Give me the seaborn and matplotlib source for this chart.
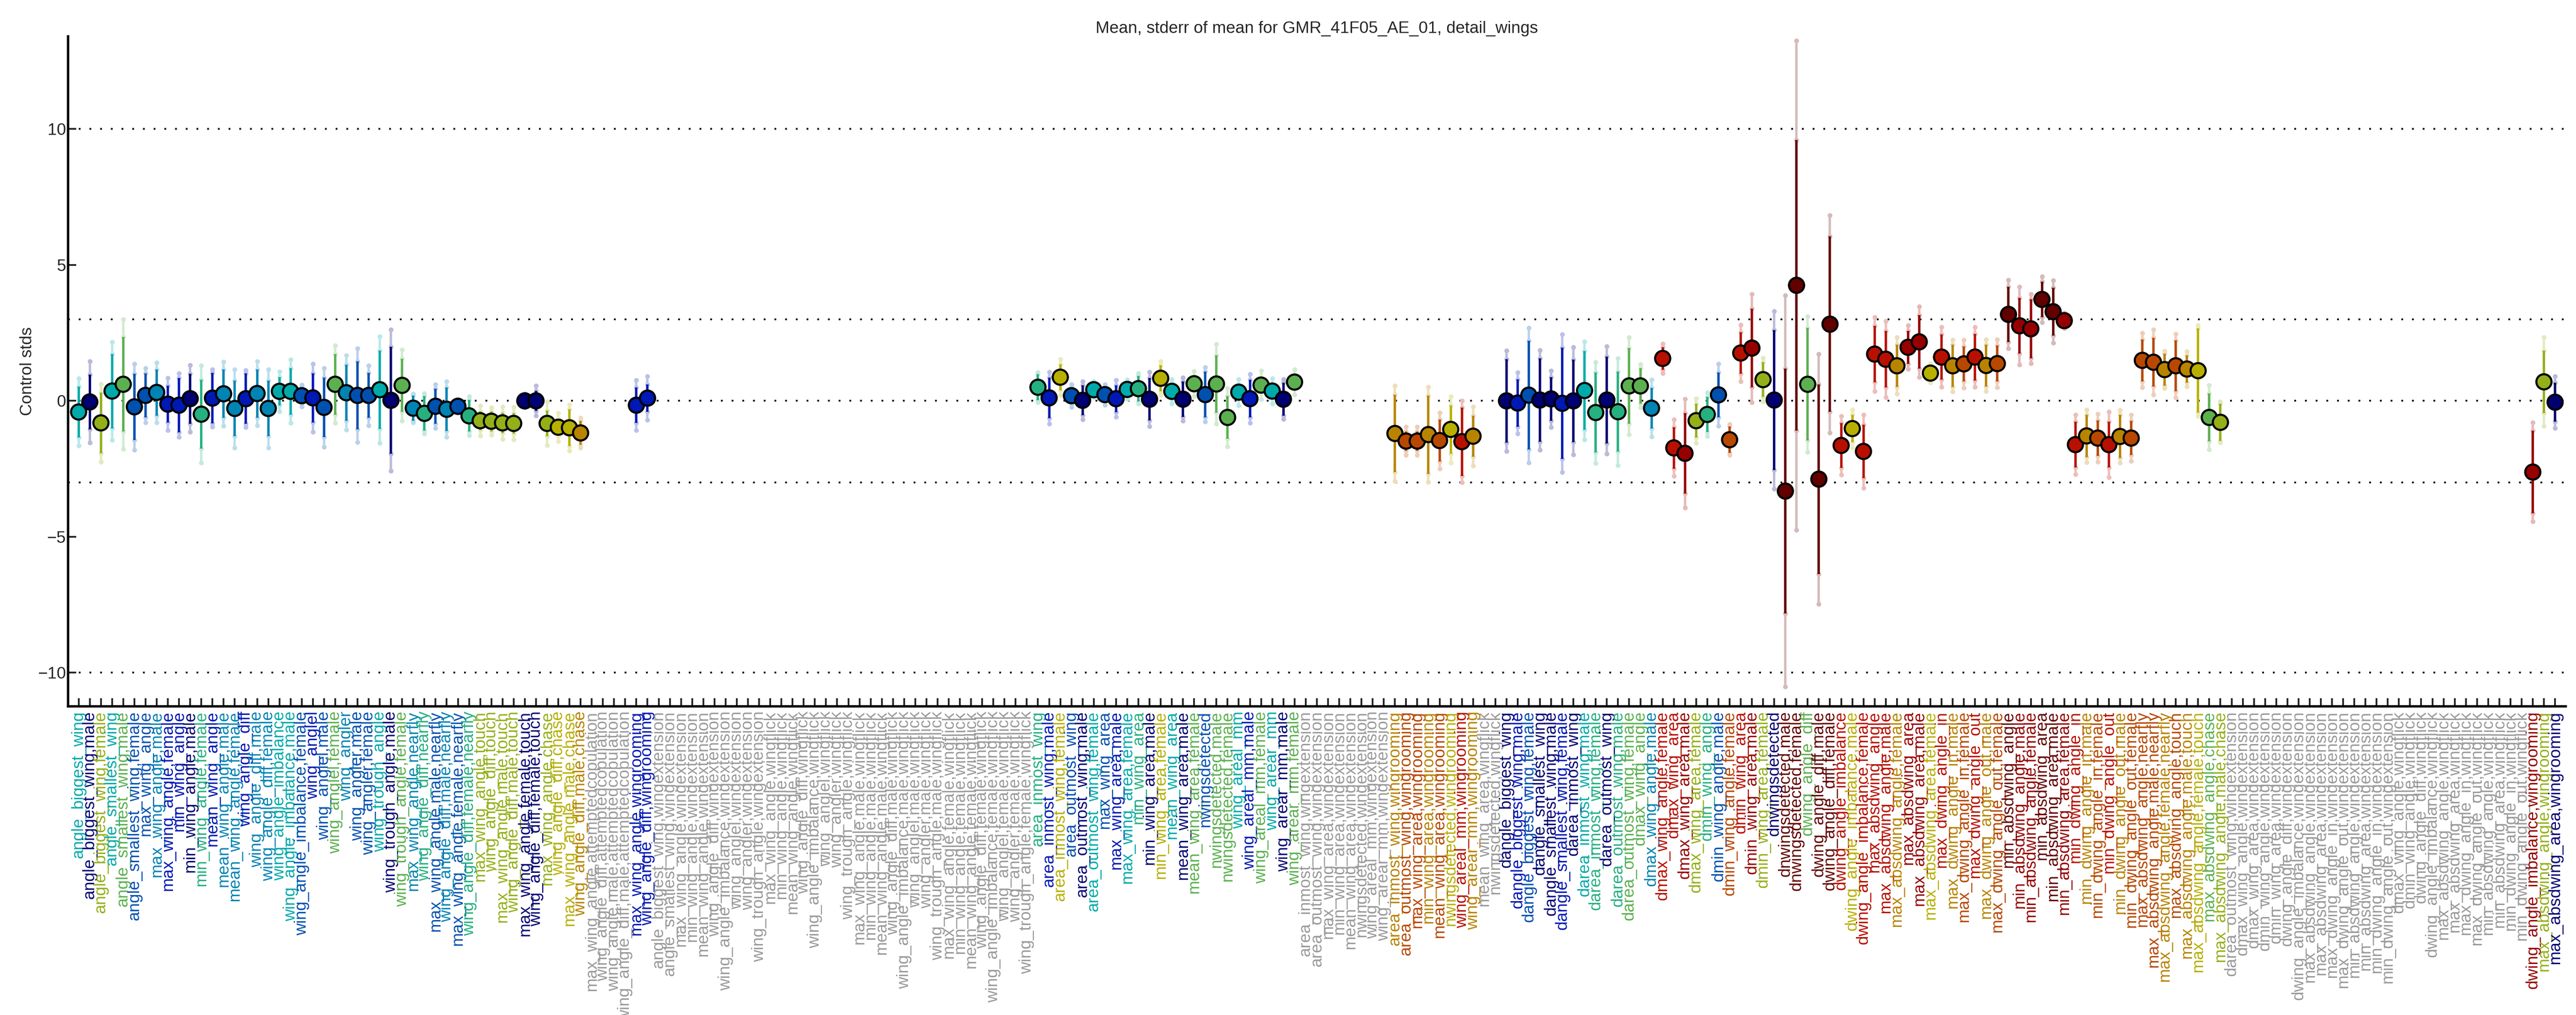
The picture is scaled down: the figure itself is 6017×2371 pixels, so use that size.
import numpy as np
import pandas as pd
import matplotlib
matplotlib.use('Agg')
import matplotlib.pyplot as plt
import matplotlib.colors as mcolors
import seaborn as sns

# feature names along the x axis
labels = [
    'angle_biggest_wing', 'angle_biggest_wing,male', 'angle_biggest_wing,female',
    'angle_smallest_wing', 'angle_smallest_wing,male', 'angle_smallest_wing,female',
    'max_wing_angle', 'max_wing_angle,male', 'max_wing_angle,female',
    'min_wing_angle', 'min_wing_angle,male', 'min_wing_angle,female',
    'mean_wing_angle', 'mean_wing_angle,male', 'mean_wing_angle,female',
    'wing_angle_diff', 'wing_angle_diff,male', 'wing_angle_diff,female',
    'wing_angle_imbalance', 'wing_angle_imbalance,male', 'wing_angle_imbalance,female',
    'wing_anglel', 'wing_anglel,male', 'wing_anglel,female',
    'wing_angler', 'wing_angler,male', 'wing_angler,female',
    'wing_trough_angle', 'wing_trough_angle,male', 'wing_trough_angle,female',
    'max_wing_angle,nearfly', 'wing_angle_diff,nearfly',
    'max_wing_angle,male,nearfly', 'wing_angle_diff,male,nearfly',
    'max_wing_angle,female,nearfly', 'wing_angle_diff,female,nearfly',
    'max_wing_angle,touch', 'wing_angle_diff,touch',
    'max_wing_angle,male,touch', 'wing_angle_diff,male,touch',
    'max_wing_angle,female,touch', 'wing_angle_diff,female,touch',
    'max_wing_angle,chase', 'wing_angle_diff,chase',
    'max_wing_angle,male,chase', 'wing_angle_diff,male,chase',
    'max_wing_angle,attemptedcopulation', 'wing_angle_diff,attemptedcopulation',
    'wing_angle,male,attemptedcopulation', 'wing_angle_diff,male,attemptedcopulation',
    'max_wing_angle,wingrooming', 'wing_angle_diff,wingrooming',
    'angle_biggest_wing,wingextension', 'angle_smallest_wing,wingextension',
    'max_wing_angle,wingextension', 'min_wing_angle,wingextension',
    'mean_wing_angle,wingextension', 'wing_angle_diff,wingextension',
    'wing_angle_imbalance,wingextension', 'wing_anglel,wingextension',
    'wing_angler,wingextension', 'wing_trough_angle,wingextension',
    'max_wing_angle,wingflick', 'min_wing_angle,wingflick', 'mean_wing_angle,wingflick',
    'wing_angle_diff,wingflick', 'wing_angle_imbalance,wingflick', 'wing_anglel,wingflick',
    'wing_angler,wingflick', 'wing_trough_angle,wingflick',
    'max_wing_angle,male,wingflick', 'min_wing_angle,male,wingflick',
    'mean_wing_angle,male,wingflick', 'wing_angle_diff,male,wingflick',
    'wing_angle_imbalance,male,wingflick', 'wing_anglel,male,wingflick',
    'wing_angler,male,wingflick', 'wing_trough_angle,male,wingflick',
    'max_wing_angle,female,wingflick', 'min_wing_angle,female,wingflick',
    'mean_wing_angle,female,wingflick', 'wing_angle_diff,female,wingflick',
    'wing_angle_imbalance,female,wingflick', 'wing_anglel,female,wingflick',
    'wing_angler,female,wingflick', 'wing_trough_angle,female,wingflick',
    'area_inmost_wing', 'area_inmost_wing,male', 'area_inmost_wing,female',
    'area_outmost_wing', 'area_outmost_wing,male', 'area_outmost_wing,female',
    'max_wing_area', 'max_wing_area,male', 'max_wing_area,female',
    'min_wing_area', 'min_wing_area,male', 'min_wing_area,female',
    'mean_wing_area', 'mean_wing_area,male', 'mean_wing_area,female',
    'nwingsdetected', 'nwingsdetected,male', 'nwingsdetected,female',
    'wing_areal_mm', 'wing_areal_mm,male', 'wing_areal_mm,female',
    'wing_arear_mm', 'wing_arear_mm,male', 'wing_arear_mm,female',
    'area_inmost_wing,wingextension', 'area_outmost_wing,wingextension',
    'max_wing_area,wingextension', 'min_wing_area,wingextension',
    'mean_wing_area,wingextension', 'nwingsdetected,wingextension',
    'wing_areal_mm,wingextension', 'wing_arear_mm,wingextension',
    'area_inmost_wing,wingrooming', 'area_outmost_wing,wingrooming',
    'max_wing_area,wingrooming', 'min_wing_area,wingrooming',
    'mean_wing_area,wingrooming', 'nwingsdetected,wingrooming',
    'wing_areal_mm,wingrooming', 'wing_arear_mm,wingrooming',
    'mean_wing_area,wingflick', 'nwingsdetected,wingflick',
    'dangle_biggest_wing', 'dangle_biggest_wing,male', 'dangle_biggest_wing,female',
    'dangle_smallest_wing', 'dangle_smallest_wing,male', 'dangle_smallest_wing,female',
    'darea_inmost_wing', 'darea_inmost_wing,male', 'darea_inmost_wing,female',
    'darea_outmost_wing', 'darea_outmost_wing,male', 'darea_outmost_wing,female',
    'dmax_wing_angle', 'dmax_wing_angle,male', 'dmax_wing_angle,female',
    'dmax_wing_area', 'dmax_wing_area,male', 'dmax_wing_area,female',
    'dmin_wing_angle', 'dmin_wing_angle,male', 'dmin_wing_angle,female',
    'dmin_wing_area', 'dmin_wing_area,male', 'dmin_wing_area,female',
    'dnwingsdetected', 'dnwingsdetected,male', 'dnwingsdetected,female',
    'dwing_angle_diff', 'dwing_angle_diff,male', 'dwing_angle_diff,female',
    'dwing_angle_imbalance', 'dwing_angle_imbalance,male', 'dwing_angle_imbalance,female',
    'max_absdwing_angle', 'max_absdwing_angle,male', 'max_absdwing_angle,female',
    'max_absdwing_area', 'max_absdwing_area,male', 'max_absdwing_area,female',
    'max_dwing_angle_in', 'max_dwing_angle_in,male', 'max_dwing_angle_in,female',
    'max_dwing_angle_out', 'max_dwing_angle_out,male', 'max_dwing_angle_out,female',
    'min_absdwing_angle', 'min_absdwing_angle,male', 'min_absdwing_angle,female',
    'min_absdwing_area', 'min_absdwing_area,male', 'min_absdwing_area,female',
    'min_dwing_angle_in', 'min_dwing_angle_in,male', 'min_dwing_angle_in,female',
    'min_dwing_angle_out', 'min_dwing_angle_out,male', 'min_dwing_angle_out,female',
    'max_absdwing_angle,nearfly', 'max_absdwing_angle,male,nearfly',
    'max_absdwing_angle,female,nearfly', 'max_absdwing_angle,touch',
    'max_absdwing_angle,male,touch', 'max_absdwing_angle,female,touch',
    'max_absdwing_angle,chase', 'max_absdwing_angle,male,chase',
    'darea_outmost_wing,wingextension', 'dmax_wing_angle,wingextension',
    'dmax_wing_area,wingextension', 'dmin_wing_angle,wingextension',
    'dmin_wing_area,wingextension', 'dwing_angle_diff,wingextension',
    'dwing_angle_imbalance,wingextension', 'max_absdwing_angle,wingextension',
    'max_absdwing_area,wingextension', 'max_dwing_angle_in,wingextension',
    'max_dwing_angle_out,wingextension', 'min_absdwing_angle,wingextension',
    'min_absdwing_area,wingextension', 'min_dwing_angle_in,wingextension',
    'min_dwing_angle_out,wingextension',
    'dmax_wing_angle,wingflick', 'dmin_wing_angle,wingflick', 'dwing_angle_diff,wingflick',
    'dwing_angle_imbalance,wingflick', 'max_absdwing_angle,wingflick',
    'max_absdwing_area,wingflick', 'max_dwing_angle_in,wingflick',
    'max_dwing_angle_out,wingflick', 'min_absdwing_angle,wingflick',
    'min_absdwing_area,wingflick', 'min_dwing_angle_in,wingflick',
    'min_dwing_angle_out,wingflick',
    'dwing_angle_imbalance,wingrooming', 'max_absdwing_angle,wingrooming',
    'max_absdwing_area,wingrooming',
]

# one colour code per feature (x = no data, gray)
color_codes = ('TNYTgbbCBBNGBCCBCCTTbBbgCbbTNgCGbCbGYYYYNNYyyoxxxxBB'
               + 'x' * 34
               + 'GByb' 'NTbB' 'TGNy' 'TNgb' 'gg' 'TBgT' 'Ng'
               + 'x' * 8
               + 'oOOoOyRo' 'xx'
               + 'NBbNNBNTGN' 'GggCRRrYGb' 'ORrYNDDgDD' 'RyRRRorryR'
               + 'oORoODrrDD' 'rRoORoOOOo' 'OoygY'
               + 'x' * 27
               + 'rYN')

palette = {
    'N': '#000072', 'B': '#0018b4', 'b': '#0050b0', 'C': '#0084b4',
    'T': '#00aaaa', 'G': '#26b080', 'g': '#5cb050', 'Y': '#94b018',
    'y': '#b8b000', 'o': '#b88400', 'O': '#b84800', 'R': '#b81000',
    'r': '#960000', 'D': '#620000', 'x': '#9a9a9a',
}

# features that have data: index, mean, stderr, outer spread
data_idx = list(range(0, 46)) + [50, 51] + list(range(86, 110)) + list(range(118, 126)) \
    + list(range(128, 193)) + [220, 221, 222]
means = [
    -0.41, -0.04, -0.81, 0.36, 0.61, -0.22, 0.20, 0.31, -0.12, -0.16,
    0.08, -0.49, 0.10, 0.26, -0.28, 0.08, 0.27, -0.28, 0.35, 0.35,
    0.19, 0.11, -0.24, 0.61, 0.30, 0.20, 0.20, 0.41, 0.02, 0.57,
    -0.27, -0.46, -0.20, -0.31, -0.20, -0.55, -0.73, -0.75, -0.81, -0.83,
    0.00, 0.00, -0.83, -0.97, -0.99, -1.18,
    -0.16, 0.10,
    0.50, 0.11, 0.87, 0.19, 0.02, 0.41, 0.23, 0.08, 0.42, 0.45,
    0.06, 0.83, 0.35, 0.06, 0.63, 0.23, 0.62, -0.61, 0.32, 0.08,
    0.58, 0.36, 0.06, 0.69,
    -1.20, -1.48, -1.48, -1.24, -1.46, -1.05, -1.50, -1.30,
    0.00, -0.08, 0.21, 0.03, 0.07, -0.09, 0.00, 0.38, -0.43, 0.03,
    -0.40, 0.55, 0.55, -0.27, 1.56, -1.73, -1.93, -0.73, -0.50, 0.22,
    -1.43, 1.76, 1.94, 0.78, 0.03, -3.32, 4.25, 0.61, -2.88, 2.82,
    -1.64, -1.02, -1.86, 1.72, 1.53, 1.29, 1.97, 2.17, 1.02, 1.61,
    1.29, 1.36, 1.61, 1.30, 1.37, 3.18, 2.76, 2.65, 3.73, 3.28,
    2.95, -1.61, -1.29, -1.37, -1.61, -1.31, -1.37, 1.49, 1.42, 1.15,
    1.29, 1.17, 1.11, -0.61, -0.79,
    -2.62, 0.70, -0.05,
]
stderr = [
    0.94, 1.01, 1.12, 1.37, 1.74, 1.22, 0.81, 0.85, 0.68, 1.00,
    0.92, 1.27, 0.93, 0.89, 1.02, 0.93, 0.89, 1.02, 0.52, 0.86,
    0.30, 0.91, 1.10, 1.12, 1.03, 1.25, 0.83, 1.44, 1.97, 0.98,
    0.46, 0.64, 0.64, 0.80, 0.20, 0.58, 0.35, 0.37, 0.38, 0.38,
    0.15, 0.37, 0.47, 0.32, 0.68, 0.44,
    0.66, 0.50,
    0.48, 0.75, 0.48, 0.30, 0.55, 0.20, 0.25, 0.50, 0.25, 0.47,
    0.78, 0.48, 0.30, 0.65, 0.25, 0.84, 1.05, 0.79, 0.20, 0.69,
    0.25, 0.20, 0.60, 0.20,
    1.42, 0.36, 0.36, 1.44, 0.77, 0.89, 1.26, 0.76,
    1.53, 0.87, 2.00, 1.53, 0.80, 2.05, 1.52, 1.45, 1.47, 1.60,
    1.47, 1.40, 0.65, 0.75, 0.42, 0.76, 1.48, 0.62, 0.65, 0.83,
    0.49, 0.76, 1.45, 0.64, 2.58, 4.50, 5.35, 2.07, 3.49, 3.23,
    0.83, 0.50, 0.98, 1.04, 1.04, 0.78, 0.61, 0.99, 0.20, 0.84,
    0.78, 0.65, 0.86, 0.77, 0.66, 1.01, 1.02, 1.08, 0.65, 0.88,
    0.20, 0.84, 0.78, 0.65, 0.84, 0.79, 0.63, 0.77, 0.90, 0.59,
    0.94, 0.50, 1.55, 0.88, 0.69,
    1.52, 1.15, 0.71,
]
spread = [
    1.24, 1.50, 1.43, 1.80, 2.38, 1.58, 1.00, 1.10, 0.96, 1.17,
    1.23, 1.78, 1.05, 1.18, 1.44, 1.05, 1.18, 1.44, 0.73, 1.17,
    0.40, 1.25, 1.45, 1.42, 1.37, 1.72, 1.10, 1.96, 2.60, 1.31,
    0.52, 0.74, 0.80, 1.02, 0.25, 0.72, 0.55, 0.50, 0.60, 0.60,
    0.25, 0.55, 0.80, 0.52, 0.85, 0.55,
    0.92, 0.80,
    0.55, 0.95, 0.66, 0.42, 0.70, 0.30, 0.38, 0.68, 0.35, 0.56,
    1.00, 0.62, 0.45, 0.80, 0.47, 1.00, 1.47, 1.07, 0.48, 0.90,
    0.53, 0.47, 0.73, 0.46,
    1.76, 0.52, 0.52, 1.75, 1.03, 1.22, 1.50, 1.08,
    1.85, 1.12, 2.48, 1.83, 1.04, 2.54, 1.98, 1.80, 1.86, 1.97,
    1.97, 1.79, 0.80, 1.04, 0.54, 1.04, 2.00, 0.82, 0.80, 1.14,
    0.57, 1.04, 1.99, 0.80, 3.26, 7.20, 9.00, 2.50, 4.60, 4.00,
    1.08, 0.70, 1.34, 1.36, 1.40, 1.04, 0.80, 1.30, 0.35, 1.10,
    0.95, 0.88, 1.10, 0.95, 0.88, 1.26, 1.43, 1.27, 0.85, 1.15,
    0.28, 1.10, 0.97, 0.88, 1.20, 0.97, 0.85, 1.00, 1.20, 0.68,
    1.17, 0.64, 1.67, 1.18, 0.75,
    1.82, 1.63, 0.95,
]

label_colors = [palette[c] for c in color_codes]


def light(col, a=0.27):
    r, g, b = mcolors.to_rgb(col)
    return (1 - a + a * r, 1 - a + a * g, 1 - a + a * b)


df = pd.DataFrame({'x': data_idx, 'mean': means, 'err': stderr, 'spread': spread})
df['col'] = [label_colors[i] for i in df['x']]

sns.set_style('white')
plt.rcParams['font.family'] = ['Liberation Sans', 'DejaVu Sans']

fig, ax = plt.subplots(figsize=(60.17, 23.71), dpi=100)
fig.subplots_adjust(left=0.0264, right=0.996, top=0.964, bottom=0.304)

for yv in [-10, -3, 0, 3, 10]:
    ax.axhline(yv, color='black', ls=(0, (1, 5)), lw=3, zorder=0)

for _, r in df.iterrows():
    lc = light(r['col'])
    ax.vlines(r['x'], r['mean'] - r['spread'], r['mean'] + r['spread'], color=lc, lw=4, zorder=1)
    ax.plot([r['x']] * 4,
            [r['mean'] - r['spread'], r['mean'] + r['spread'], r['mean'] - r['err'], r['mean'] + r['err']],
            ls='none', marker='o', ms=7, color=lc, zorder=1)
    ax.vlines(r['x'], r['mean'] - r['err'], r['mean'] + r['err'], color=r['col'], lw=4, zorder=2)

pal = {i: c for i, c in zip(df['x'], df['col'])}
sns.scatterplot(data=df, x='x', y='mean', hue='x', palette=pal, legend=False,
                s=650, edgecolor='black', linewidth=3.5, ax=ax, zorder=3)

ax.set_xlim(-0.95, len(labels) - 0.05)
ax.set_ylim(-11.24, 13.4)
ax.set_yticks([-10, -5, 0, 5, 10])
ax.set_xticks(range(len(labels)))
ax.set_xticklabels(labels, rotation=90, fontsize=28)
for t, c in zip(ax.get_xticklabels(), label_colors):
    t.set_color(c)
ax.tick_params(axis='y', labelsize=28, direction='in', length=14, width=3, left=True)
ax.tick_params(axis='x', direction='in', length=14, width=3, bottom=True, pad=8)
for s in ['top', 'right']:
    ax.spines[s].set_visible(False)
for s in ['left', 'bottom']:
    ax.spines[s].set_linewidth(4)
    ax.spines[s].set_color('black')
ax.set_xlabel('')
ax.set_ylabel('Control stds', fontsize=28)
ax.set_title('Mean, stderr of mean for GMR_41F05_AE_01, detail_wings', fontsize=28)

fig.savefig('out.png', dpi=100)
